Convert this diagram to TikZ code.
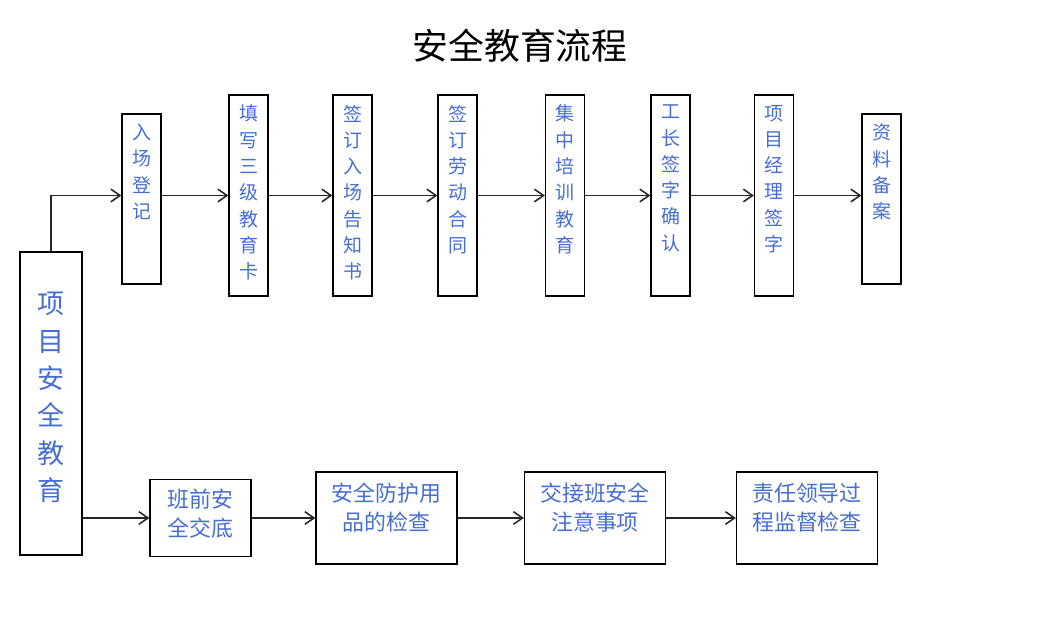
\documentclass[tikz,border=0pt]{standalone}
\usepackage{fontspec}
\newfontfamily\cjk{Noto Sans CJK SC}
\usetikzlibrary{arrows.meta,positioning}
\definecolor{labelblue}{RGB}{70,110,210}
\newcommand{\px}{0.025cm}
\tikzset{
  stepbox/.style={
    draw, line width=0.9pt, inner sep=0pt
  },
  topbox/.style={
    stepbox, minimum width=39*\px, minimum height=#1*\px
  },
  lowbox/.style={
    stepbox, minimum width=#1*\px, minimum height=92*\px
  },
  titletext/.style={
    font={\cjk\fontsize{25.5pt}{30pt}\selectfont}
  },
  toptext/.style={
    text=labelblue, align=center,
    font={\cjk\fontsize{13.5pt}{18.7pt}\selectfont}
  },
  bigtext/.style={
    text=labelblue, align=center,
    font={\cjk\fontsize{19.2pt}{26.6pt}\selectfont}
  },
  lowtext/.style={
    text=labelblue, align=center,
    font={\cjk\fontsize{15.6pt}{20.6pt}\selectfont}
  },
  flow/.style={
    line width=1.1pt, draw=black!85,
    -{Straight Barb[length=6.5pt, width=9pt]}
  }
}
\begin{document}
\begin{tikzpicture}[x=\px, y=-\px]
  \useasboundingbox (0,0) rectangle (1052,638);
  \node[titletext] (title) at (520,46) {安全教育流程};

  % left box
  \node[stepbox, minimum width=62*\px, minimum height=303*\px] (main) at (51,403.5) {};
  \node[bigtext, below=25.5pt of main.north] (mainlbl) {项\\目\\安\\全\\教\\育};

  % top row
  \node[topbox=170] (s1) at (141.5,199) {};
  \node[topbox=201] (s2) at (248.5,195.5) {};
  \node[topbox=201] (s3) at (352.5,195.5) {};
  \node[topbox=201] (s4) at (457.5,195.5) {};
  \node[topbox=201] (s5) at (565,195.5) {};
  \node[topbox=201] (s6) at (670.5,195.5) {};
  \node[topbox=201] (s7) at (774,195.5) {};
  \node[topbox=170] (s8) at (881.5,199) {};
  \node[toptext, below=4pt of s1.north] (s1lbl) {入\\场\\登\\记};
  \node[toptext, below=4pt of s2.north] (s2lbl) {填\\写\\三\\级\\教\\育\\卡};
  \node[toptext, below=4pt of s3.north] (s3lbl) {签\\订\\入\\场\\告\\知\\书};
  \node[toptext, below=4pt of s4.north] (s4lbl) {签\\订\\劳\\动\\合\\同};
  \node[toptext, below=4pt of s5.north] (s5lbl) {集\\中\\培\\训\\教\\育};
  \node[toptext, below=4pt of s6.north] (s6lbl) {工\\长\\签\\字\\确\\认};
  \node[toptext, below=4pt of s7.north] (s7lbl) {项\\目\\经\\理\\签\\字};
  \node[toptext, below=4pt of s8.north] (s8lbl) {资\\料\\备\\案};

  % bottom row
  \node[stepbox, minimum width=101*\px, minimum height=77*\px] (b1) at (200.5,518) {};
  \node[lowbox=141] (b2) at (386.5,518) {};
  \node[lowbox=141] (b3) at (595,518) {};
  \node[lowbox=141] (b4) at (807,518) {};
  \node[lowtext, below=3.5pt of b1.north] (b1lbl) {班前安\\全交底};
  \node[lowtext, below=4.5pt of b2.north] (b2lbl) {安全防护用\\品的检查};
  \node[lowtext, below=4.5pt of b3.north] (b3lbl) {交接班安全\\注意事项};
  \node[lowtext, below=4.5pt of b4.north] (b4lbl) {责任领导过\\程监督检查};

  % connectors
  \draw[flow] (main.north) |- (s1.west |- s2.west);
  \draw[flow] (s1.east |- s2.west) -- (s2.west);
  \draw[flow] (s2) -- (s3);
  \draw[flow] (s3) -- (s4);
  \draw[flow] (s4) -- (s5);
  \draw[flow] (s5) -- (s6);
  \draw[flow] (s6) -- (s7);
  \draw[flow] (s7) -- (s7 -| s8.west);
  \draw[flow] (main.east |- b1.west) -- (b1.west);
  \draw[flow] (b1) -- (b2);
  \draw[flow] (b2) -- (b3);
  \draw[flow] (b3) -- (b4);
\end{tikzpicture}
\end{document}
